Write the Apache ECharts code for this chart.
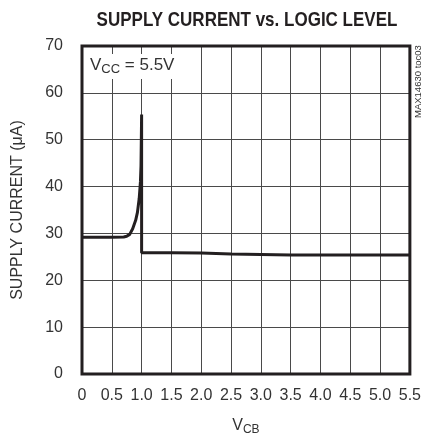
<!DOCTYPE html>
<html><head><meta charset="utf-8">
<script src="https://cdn.jsdelivr.net/npm/echarts@6/dist/echarts.min.js"></script>
<style>html,body{margin:0;padding:0;background:#fff}#c{width:424px;height:441px}</style>
</head><body><div id="c"></div>
<script>
const xVals = [0, 0.5, 0.7, 0.75, 0.8, 0.85, 0.9, 0.93, 0.96, 0.98, 0.99, 1.0, 1.0, 1.5, 2.0, 2.5, 3.0, 3.5, 4.0, 4.5, 5.0, 5.5];
const current = [29.2, 29.2, 29.25, 29.4, 29.8, 31.0, 32.8, 34.5, 37.5, 41.0, 44.5, 55.4, 25.9, 25.9, 25.8, 25.6, 25.5, 25.4, 25.4, 25.4, 25.4, 25.4];
const xTicks = ['0','0.5','1.0','1.5','2.0','2.5','3.0','3.5','4.0','4.5','5.0','5.5'];
const yTicks = ['0','10','20','30','40','50','60','70'];

const FONT = '"Liberation Sans",Arial,sans-serif';
const chart = echarts.init(document.getElementById('c'));
chart.setOption({
  animation: false,
  title: [{
    text: 'V{s|CC} = 5.5V',
    left: 88, top: 52, padding: [3, 3, 3, 2], backgroundColor: '#fff',
    textStyle: {fontFamily: FONT, fontWeight: 'normal', fontSize: 17, color: '#333',
      rich: {s: {fontFamily: FONT, fontSize: 13, color: '#333', padding: [8, 0, 0, 0]}}}
  }],
  grid: {left: 82, top: 46, width: 332, height: 332, show: true, borderWidth: 3, borderColor: '#231f20', z: 3},
  xAxis: {
    type: 'value', min: 0, max: 5.5, interval: 0.5,
    name: 'V{s|CB}', nameLocation: 'middle', nameGap: 42,
    nameTextStyle: {fontFamily: FONT, fontSize: 16, color: '#333',
      rich: {s: {fontFamily: FONT, fontSize: 12, color: '#333', padding: [8, 0, 0, 0]}}},
    axisLine: {show: false}, axisTick: {show: false},
    axisLabel: {fontFamily: FONT, fontSize: 16, color: '#333', margin: 14,
      formatter: (v) => xTicks[Math.round(v / 0.5)]},
    splitLine: {show: true, lineStyle: {color: '#4a4a4a', width: 1}}
  },
  yAxis: {
    type: 'value', min: 0, max: 70, interval: 10,
    name: 'SUPPLY CURRENT (μA)', nameLocation: 'middle', nameGap: 56,
    nameTextStyle: {fontFamily: FONT, fontSize: 16, color: '#333'},
    axisLine: {show: false}, axisTick: {show: false},
    axisLabel: {fontFamily: FONT, fontSize: 16, color: '#333', margin: 19,
      formatter: (v) => yTicks[Math.round(v / 10)]},
    splitLine: {show: true, lineStyle: {color: '#4a4a4a', width: 1}}
  },
  graphic: [{
    type: 'text', x: 247, y: 20, scaleX: 0.81,
    style: {text: 'SUPPLY CURRENT vs. LOGIC LEVEL', fontFamily: FONT, fontWeight: 'bold', fontSize: 21,
      fill: '#231f20', textAlign: 'center', textVerticalAlign: 'middle'}
  }, {
    type: 'text', x: 418, y: 118, rotation: Math.PI / 2,
    style: {text: 'MAX14630 toc03', fontFamily: FONT, fontSize: 9.5, fill: '#333', textVerticalAlign: 'middle'}
  }],
  series: [{
    type: 'line', data: xVals.map((x, i) => [x, current[i]]),
    showSymbol: false, smooth: false, z: 4,
    lineStyle: {color: '#231f20', width: 3}
  }]
});
</script></body></html>
